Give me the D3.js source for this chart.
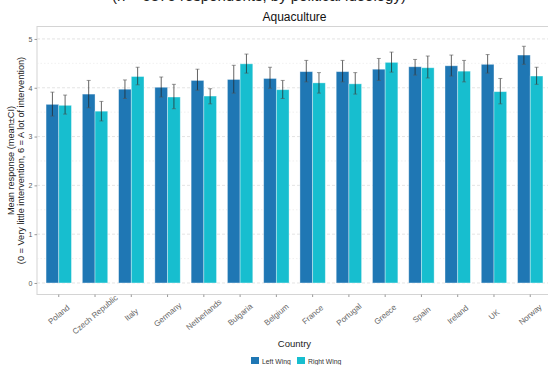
<!DOCTYPE html>
<html lang="en">
<head>
  <meta charset="UTF-8">
  <title>Aquaculture</title>
  <style>
    body { margin: 0; background: #fff; }
    text { font-family: "Liberation Sans", Arial, sans-serif; }
  </style>
</head>
<body>
<div id="output"></div>
<script src="https://d3js.org/d3.v7.min.js"></script>
<script type="text/javascript">
  const countries = ["Poland", "Czech Republic", "Italy", "Germany", "Netherlands", "Bulgaria", "Belgium",
    "France", "Portugal", "Greece", "Spain", "Ireland", "UK", "Norway"];
  const groups = ["Left Wing", "Right Wing"];

  const leftMean = [3.66, 3.87, 3.97, 4.01, 4.15, 4.17, 4.19, 4.33, 4.33, 4.38, 4.43, 4.45, 4.48, 4.67];
  const leftLow  = [3.42, 3.59, 3.78, 3.81, 3.95, 3.89, 3.99, 4.12, 4.12, 4.15, 4.26, 4.24, 4.30, 4.48];
  const leftHigh = [3.91, 4.15, 4.16, 4.22, 4.38, 4.46, 4.42, 4.56, 4.56, 4.60, 4.58, 4.67, 4.68, 4.85];

  const rightMean = [3.64, 3.52, 4.23, 3.81, 3.83, 4.49, 3.96, 4.10, 4.08, 4.52, 4.41, 4.34, 3.92, 4.24];
  const rightLow  = [3.46, 3.32, 4.06, 3.57, 3.67, 4.30, 3.78, 3.89, 3.87, 4.32, 4.20, 4.12, 3.67, 4.07];
  const rightHigh = [3.85, 3.72, 4.42, 4.07, 3.98, 4.69, 4.15, 4.31, 4.31, 4.73, 4.65, 4.56, 4.19, 4.42];

  const yTicks = [0, 1, 2, 3, 4, 5];
  const yMinor = [0.5, 1.5, 2.5, 3.5, 4.5];
  const colors = ["#1f77b4", "#17becf"];

  const W = 548, H = 365;
  const panel = { left: 37, right: 552, top: 26.5, bottom: 294.5 };

  const svg = d3.select("#output").append("svg")
    .attr("width", W).attr("height", H);

  // ggplot-style expansion: 0.6 category units on each side
  const step = (panel.right - panel.left) / (countries.length - 1 + 1.2);
  const x = d3.scaleBand()
    .domain(countries)
    .range([panel.left + 0.6 * step - step / 2, panel.right - 0.6 * step + step / 2])
    .padding(0);

  const xg = d3.scaleBand().domain(groups).range([0, x.bandwidth() * 0.7]);

  const y = d3.scaleLinear().domain([-0.236, 5.255]).range([panel.bottom, panel.top]);

  // cut-off header line at the very top
  svg.append("text")
    .attr("x", 112).attr("y", 1)
    .style("font-size", "15px").style("fill", "#222")
    .text("(n = 5875 respondents, by political ideology)");

  // panel frame
  svg.append("rect")
    .attr("x", panel.left).attr("y", panel.top)
    .attr("width", panel.right - panel.left).attr("height", panel.bottom - panel.top)
    .style("fill", "none").style("stroke", "#d4d4d4").style("stroke-width", 1);

  // grid
  svg.append("g").selectAll("line").data(yMinor).join("line")
    .attr("x1", panel.left).attr("x2", panel.right)
    .attr("y1", d => y(d)).attr("y2", d => y(d))
    .style("stroke", "#e6e6e6").style("stroke-width", 0.6).style("stroke-dasharray", "1.5,2");
  svg.append("g").selectAll("line").data(yTicks).join("line")
    .attr("x1", panel.left).attr("x2", panel.right)
    .attr("y1", d => y(d)).attr("y2", d => y(d))
    .style("stroke", "#d9d9d9").style("stroke-width", 0.7).style("stroke-dasharray", "3,2");

  // bars
  const rows = [];
  countries.forEach((c, i) => {
    rows.push({ c: c, g: groups[0], m: leftMean[i], lo: leftLow[i], hi: leftHigh[i], k: 0 });
    rows.push({ c: c, g: groups[1], m: rightMean[i], lo: rightLow[i], hi: rightHigh[i], k: 1 });
  });
  const off = x.bandwidth() * 0.15;

  svg.append("g").selectAll("rect").data(rows).join("rect")
    .attr("x", d => x(d.c) + off + xg(d.g))
    .attr("y", d => y(d.m))
    .attr("width", xg.bandwidth())
    .attr("height", d => y(0) - y(d.m))
    .style("fill", d => colors[d.k])
    .style("stroke", "#ffffff").style("stroke-opacity", 0.45).style("stroke-width", 0.8);

  // error bars
  const eb = svg.append("g");
  rows.forEach(d => {
    const cx = x(d.c) + off + xg(d.g) + xg.bandwidth() / 2;
    eb.append("line")
      .attr("x1", cx).attr("x2", cx).attr("y1", y(d.lo)).attr("y2", y(d.hi))
      .style("stroke", "#222").style("stroke-opacity", 0.7).style("stroke-width", 1);
    [d.lo, d.hi].forEach(v => {
      eb.append("line")
        .attr("x1", cx - 2).attr("x2", cx + 2).attr("y1", y(v)).attr("y2", y(v))
        .style("stroke", "#555").style("stroke-opacity", 0.6).style("stroke-width", 1);
    });
  });

  // y axis
  const yAxis = svg.append("g").attr("transform", `translate(${panel.left},0)`)
    .call(d3.axisLeft(y).tickValues(yTicks).tickSize(2.5).tickPadding(2).tickFormat(d3.format("d")));
  yAxis.select(".domain").remove();
  yAxis.selectAll("line").style("stroke", "#999");
  yAxis.selectAll("text").style("font-size", "7px").style("fill", "#555")
    .style("font-family", "Liberation Sans, Arial, sans-serif");

  // x axis
  const xAxis = svg.append("g").attr("transform", `translate(0,${panel.bottom})`)
    .call(d3.axisBottom(x).tickSize(2.5).tickPadding(2));
  xAxis.select(".domain").remove();
  xAxis.selectAll("line").style("stroke", "#999");
  xAxis.selectAll("text")
    .style("font-size", "8px").style("fill", "#666")
    .style("font-family", "Liberation Sans, Arial, sans-serif")
    .attr("text-anchor", "middle")
    .attr("x", 0).attr("y", 0).attr("dy", "0.35em")
    .attr("transform", "translate(0,20) rotate(-40)");

  const cx = (panel.left + panel.right) / 2;

  // titles
  svg.append("text").attr("x", cx).attr("y", 21)
    .attr("text-anchor", "middle").style("font-size", "12px").style("fill", "#111")
    .text("Aquaculture");

  svg.append("text").attr("x", cx).attr("y", 347)
    .attr("text-anchor", "middle").style("font-size", "9.5px").style("fill", "#222")
    .text("Country");

  const yl = svg.append("text")
    .attr("transform", `translate(14,${(panel.top + panel.bottom) / 2}) rotate(-90)`)
    .attr("text-anchor", "middle").style("font-size", "9.2px").style("fill", "#222");
  yl.append("tspan").attr("x", 0).attr("dy", 0).text("Mean response (mean\u00B1CI)");
  yl.append("tspan").attr("x", 0).attr("dy", "1.12em")
    .text("(0 = Very little intervention, 6 = A lot of intervention)");

  // legend
  const leg = svg.append("g").attr("transform", "translate(251,357)");
  const legX = [0, 46];
  groups.forEach((g, i) => {
    leg.append("rect").attr("x", legX[i]).attr("y", 0).attr("width", 8).attr("height", 7)
      .style("fill", colors[i]);
    leg.append("text").attr("x", legX[i] + 11).attr("y", 6.5)
      .style("font-size", "6.8px").style("fill", "#333").text(g);
  });
</script>
</body>
</html>
